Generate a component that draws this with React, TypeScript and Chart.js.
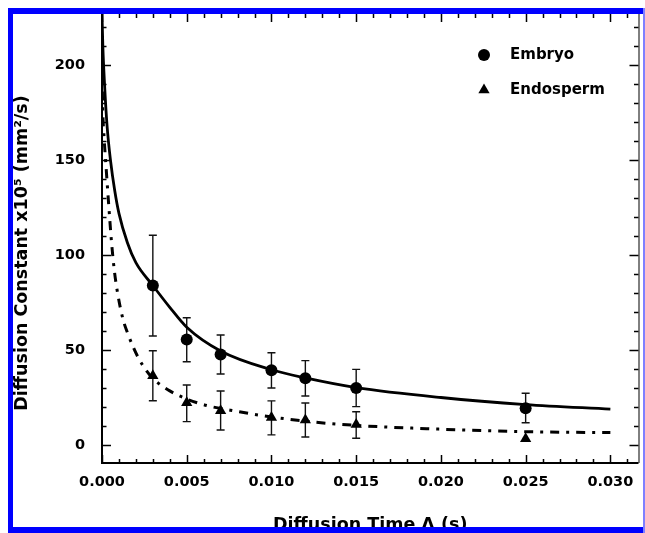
import React, { useEffect, useRef } from "react";
import { Chart, registerables } from "chart.js";

Chart.register(...registerables);

// ---------------- data ----------------
const measureTimes = [0.003, 0.005, 0.007, 0.010, 0.012, 0.015, 0.025];

const embryoValues = [84.0, 55.6, 47.6, 39.4, 35.2, 30.0, 19.4];
const embryoErrHigh = [110.5, 67.0, 57.9, 48.6, 44.4, 39.8, 27.2];
const embryoErrLow = [57.4, 43.8, 37.4, 30.0, 25.8, 20.2, 11.7];

const endospermValues = [36.5, 22.3, 18.0, 14.5, 13.1, 10.8, 3.3];
const endospermErrHigh = [49.6, 31.6, 28.4, 23.2, 22.1, 17.5, 3.3];
const endospermErrLow = [23.3, 12.3, 7.9, 5.3, 4.2, 3.5, 3.3];

const embryoFitTimes = [0, 0.00005, 0.00015, 0.0003, 0.0005, 0.00075, 0.001, 0.0015, 0.002, 0.003, 0.004, 0.005, 0.007, 0.010, 0.012, 0.015, 0.020, 0.025, 0.030];
const embryoFitValues = [227, 210, 190, 168, 150, 134, 122, 106.5, 96, 84, 72.5, 62, 49.5, 39.6, 35.3, 30.2, 25.0, 21.3, 18.9];

const endospermFitTimes = [0, 0.00004, 0.00013, 0.00025, 0.0004, 0.00057, 0.00074, 0.00094, 0.00123, 0.00153, 0.00182, 0.00211, 0.0024, 0.0029, 0.004, 0.0057, 0.0081, 0.0108, 0.014, 0.020, 0.025, 0.030];
const endospermFitValues = [200, 178, 161, 145, 126, 106, 91, 79, 66.5, 58.5, 52, 46.5, 42, 36, 28.5, 22, 17.5, 13.8, 10.9, 8.3, 7.0, 6.5];

const xTickValues = [0, 0.005, 0.010, 0.015, 0.020, 0.025, 0.030];
const yTickValues = [0, 50, 100, 150, 200];
const xMinorStep = 0.001;
const yMinorStep = 10;

const seriesNames = ["Embryo", "Endosperm"];
const xTitle = "Diffusion Time \u0394 (s)";
const yTitle = "Diffusion Constant x10\u2075 (mm\u00B2/s)";

const FONT = "'DejaVu Sans', Verdana, sans-serif";

const decorPlugin = {
  id: "decor",
  beforeDatasetsDraw(chart: any) {
    const { ctx, scales } = chart;
    const x = scales.x, y = scales.y;
    ctx.save();
    ctx.strokeStyle = "#111";
    ctx.lineWidth = 1.4;
    const bars = (lo: number[], hi: number[]) => {
      measureTimes.forEach((t, i) => {
        if (hi[i] - lo[i] < 1) return;
        const px = x.getPixelForValue(t);
        const p1 = y.getPixelForValue(hi[i]);
        const p2 = y.getPixelForValue(lo[i]);
        ctx.beginPath();
        ctx.moveTo(px, p1); ctx.lineTo(px, p2);
        ctx.moveTo(px - 4, p1); ctx.lineTo(px + 4, p1);
        ctx.moveTo(px - 4, p2); ctx.lineTo(px + 4, p2);
        ctx.stroke();
      });
    };
    bars(embryoErrLow, embryoErrHigh);
    bars(endospermErrLow, endospermErrHigh);
    ctx.restore();
  },
  afterDraw(chart: any) {
    const { ctx, chartArea: a, scales } = chart;
    const x = scales.x, y = scales.y;
    ctx.save();
    ctx.strokeStyle = "#000";
    // axis lines
    ctx.lineWidth = 2;
    ctx.beginPath();
    ctx.moveTo(a.left, a.top); ctx.lineTo(a.left, a.bottom);
    ctx.lineTo(a.right, a.bottom);
    ctx.stroke();
    ctx.lineWidth = 1;
    ctx.beginPath();
    ctx.moveTo(a.right + 0.5, a.top); ctx.lineTo(a.right + 0.5, a.bottom);
    ctx.stroke();
    // ticks
    ctx.lineWidth = 1.5;
    ctx.beginPath();
    const xMax = x.max, yMax = y.max;
    for (let k = 0; k * xMinorStep <= xMax + 1e-9; k++) {
      const v = k * xMinorStep;
      const px = Math.round(x.getPixelForValue(v)) + 0.5;
      const major = k % 5 === 0;
      const len = major ? 8 : 4;
      ctx.moveTo(px, a.bottom); ctx.lineTo(px, a.bottom - len);
      ctx.moveTo(px, a.top); ctx.lineTo(px, a.top + len);
    }
    for (let k = -1; k * yMinorStep <= yMax + 1e-9; k++) {
      const v = k * yMinorStep;
      if (v < y.min) continue;
      const py = Math.round(y.getPixelForValue(v)) + 0.5;
      const major = k % 5 === 0;
      const len = major ? 9 : 4.5;
      ctx.moveTo(a.left, py); ctx.lineTo(a.left + len, py);
      ctx.moveTo(a.right, py); ctx.lineTo(a.right - len, py);
    }
    ctx.stroke();

    // legend
    ctx.fillStyle = "#000";
    ctx.beginPath();
    ctx.arc(484, 55, 6, 0, Math.PI * 2);
    ctx.fill();
    const tr = 6.5;
    ctx.beginPath();
    ctx.moveTo(484, 90 - tr);
    ctx.lineTo(484 + tr * 0.866, 90 + tr / 2);
    ctx.lineTo(484 - tr * 0.866, 90 + tr / 2);
    ctx.closePath();
    ctx.fill();
    ctx.font = `bold 15px ${FONT}`;
    ctx.textAlign = "left";
    ctx.textBaseline = "middle";
    ctx.fillText(seriesNames[0], 510, 55);
    ctx.fillText(seriesNames[1], 510, 90);

    // axis titles
    ctx.font = `bold 17.5px ${FONT}`;
    ctx.textAlign = "center";
    ctx.textBaseline = "alphabetic";
    ctx.fillText(xTitle, (a.left + a.right) / 2, 530);
    ctx.save();
    ctx.translate(27, 253);
    ctx.rotate(-Math.PI / 2);
    ctx.textBaseline = "alphabetic";
    ctx.fillText(yTitle, 0, 0);
    ctx.restore();

    // blue frame
    ctx.fillStyle = "#0000ff";
    ctx.fillRect(8, 8, 637, 6);
    ctx.fillRect(8, 8, 5, 525);
    ctx.fillRect(8, 527, 637, 6);
    ctx.fillStyle = "#7f7fff";
    ctx.fillRect(643, 8, 2, 525);
    ctx.restore();
  },
};

export default function App() {
  const ref = useRef<HTMLCanvasElement | null>(null);
  useEffect(() => {
    if (!ref.current) return;
    const toXY = (ts: number[], vs: number[]) => ts.map((t, i) => ({ x: t, y: vs[i] }));
    const zeroPad = (s: any) => {
      s.paddingTop = 0;
      s.paddingBottom = 0;
      s.paddingLeft = 0;
      s.paddingRight = 0;
    };
    const chart = new Chart(ref.current, {
      type: "scatter",
      data: {
        datasets: [
          {
            label: seriesNames[0],
            data: toXY(measureTimes, embryoValues),
            pointStyle: "circle",
            pointRadius: 6,
            backgroundColor: "#000",
            borderColor: "#000",
            borderWidth: 0,
            order: 0,
          },
          {
            label: seriesNames[1],
            data: toXY(measureTimes, endospermValues),
            pointStyle: "triangle",
            pointRadius: 6.5,
            backgroundColor: "#000",
            borderColor: "#000",
            borderWidth: 0,
            order: 0,
          },
          {
            type: "line",
            label: "Embryo fit",
            data: toXY(embryoFitTimes, embryoFitValues),
            borderColor: "#000",
            borderWidth: 2.8,
            pointRadius: 0,
            showLine: true,
            fill: false,
            cubicInterpolationMode: "monotone",
            order: 1,
          },
          {
            type: "line",
            label: "Endosperm fit",
            data: toXY(endospermFitTimes, endospermFitValues),
            borderColor: "#000",
            borderWidth: 3,
            borderDash: [9, 7, 3, 7],
            pointRadius: 0,
            showLine: true,
            fill: false,
            cubicInterpolationMode: "monotone",
            order: 1,
          },
        ] as any,
      },
      options: {
        animation: false,
        responsive: false,
        devicePixelRatio: 1,
        layout: { padding: { left: 0, right: 4, top: 14, bottom: 0 } },
        plugins: { legend: { display: false }, tooltip: { enabled: false } },
        scales: {
          x: {
            type: "linear",
            min: 0,
            max: 0.03166,
            afterBuildTicks: (s: any) => {
              s.ticks = xTickValues.map((v) => ({ value: v }));
            },
            afterFit: (s: any) => {
              s.height = 70;
              zeroPad(s);
            },
            grid: { display: false, drawTicks: false },
            border: { display: false },
            ticks: {
              padding: 11,
              color: "#000",
              maxRotation: 0,
              autoSkip: false,
              font: { family: FONT, weight: "bold", size: 14.5 },
              callback: (v: any) => Number(v).toFixed(3),
            },
          },
          y: {
            type: "linear",
            min: -9.5,
            max: 227,
            afterBuildTicks: (s: any) => {
              s.ticks = yTickValues.map((v) => ({ value: v }));
            },
            afterFit: (s: any) => {
              s.width = 102;
              zeroPad(s);
            },
            grid: { display: false, drawTicks: false },
            border: { display: false },
            ticks: {
              padding: 17,
              color: "#000",
              autoSkip: false,
              font: { family: FONT, weight: "bold", size: 14.5 },
              callback: (v: any) => String(v),
            },
          },
        },
      },
      plugins: [decorPlugin],
    } as any);
    return () => chart.destroy();
  }, []);
  return (
    <div style={{ position: "fixed", left: 0, top: 0, width: 645, height: 533, background: "#fff" }}>
      <canvas ref={ref} width={645} height={533} style={{ display: "block" }} />
    </div>
  );
}
